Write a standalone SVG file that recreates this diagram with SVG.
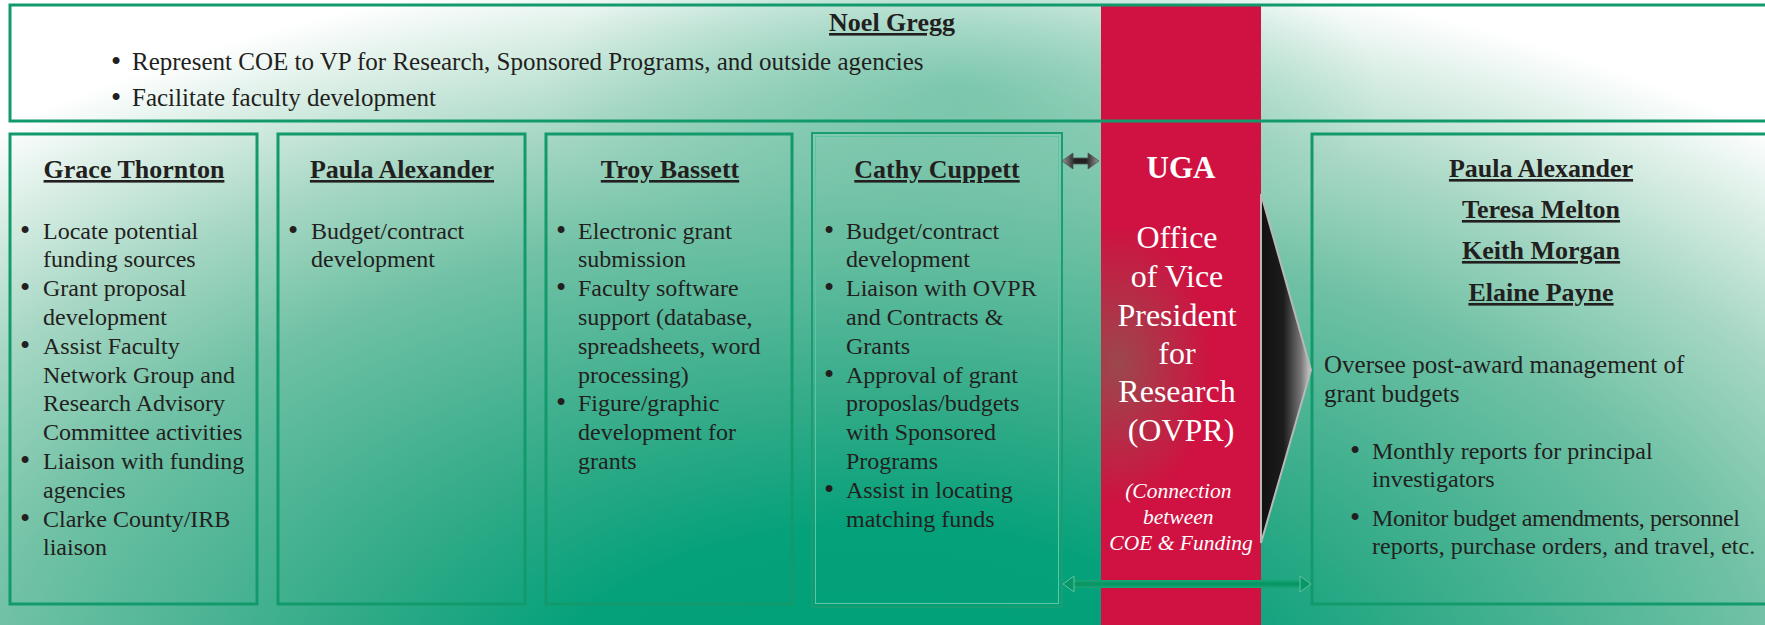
<svg xmlns="http://www.w3.org/2000/svg" width="1765" height="625" viewBox="0 0 1765 625">
<defs>
<radialGradient id="bg" gradientUnits="userSpaceOnUse" cx="880" cy="720" r="1375" gradientTransform="translate(880 720) scale(1 0.56) translate(-880 -720)">
<stop offset="0" stop-color="#00a079"/>
<stop offset="0.25" stop-color="#04a17a"/>
<stop offset="0.4" stop-color="#30aa87"/>
<stop offset="0.65" stop-color="#70c1a5"/>
<stop offset="0.8" stop-color="#a8d8c5"/>
<stop offset="0.92" stop-color="#dcefe7"/>
<stop offset="1" stop-color="#ffffff"/>
</radialGradient>
<radialGradient id="topTeal" cx="0.5" cy="0.5" r="0.5">
<stop offset="0" stop-color="#4fb594" stop-opacity="0.55"/>
<stop offset="1" stop-color="#4fb594" stop-opacity="0"/>
</radialGradient>
<radialGradient id="redShade" cx="0.5" cy="0.5" r="0.5">
<stop offset="0" stop-color="#8a5a50" stop-opacity="0.75"/>
<stop offset="1" stop-color="#8a5a50" stop-opacity="0"/>
</radialGradient>
<linearGradient id="chev" x1="0" y1="0" x2="1" y2="0">
<stop offset="0" stop-color="#111"/>
<stop offset="0.45" stop-color="#1c1c1c"/>
<stop offset="0.8" stop-color="#777"/>
<stop offset="1" stop-color="#cfcfcf"/>
</linearGradient>
<linearGradient id="dbl" x1="0" y1="0" x2="1" y2="0">
<stop offset="0" stop-color="#9a9a9a"/>
<stop offset="0.35" stop-color="#222"/>
<stop offset="0.65" stop-color="#222"/>
<stop offset="1" stop-color="#9a9a9a"/>
</linearGradient>
<linearGradient id="grn" x1="0" y1="0" x2="0" y2="1">
<stop offset="0" stop-color="#1aa67a"/>
<stop offset="0.5" stop-color="#05935f"/>
<stop offset="1" stop-color="#1aa67a"/>
</linearGradient>
<clipPath id="redClip"><rect x="1101" y="5" width="160" height="620"/></clipPath>
<style>
.box{fill:none;stroke:#129a6d;stroke-width:3}
.t{font-family:"Liberation Serif","Times New Roman",serif;fill:#231f20}
.b24{font-size:24px}
.b25{font-size:25px}
.bu{font-size:29px}
.h{font-family:"Liberation Serif","Times New Roman",serif;font-weight:bold;font-size:26px;fill:#231f20;text-anchor:middle;text-decoration:underline}
.w{font-family:"Liberation Serif","Times New Roman",serif;fill:#ffffff;text-anchor:middle}
</style>
</defs>
<rect x="0" y="0" width="1765" height="625" fill="url(#bg)"/>
<ellipse cx="960" cy="90" rx="420" ry="170" fill="url(#topTeal)"/>

<g id="node-ovpr">
<rect x="1101" y="5" width="160" height="620" fill="#cf1241"/>
<g clip-path="url(#redClip)">
<ellipse cx="1118" cy="365" rx="95" ry="140" fill="url(#redShade)"/>
</g>
<text class="w" x="1181" y="178" font-size="31" font-weight="bold">UGA</text>
<text class="w" font-size="32">
<tspan x="1181" y="248">Office</tspan>
<tspan x="1181" y="287">of Vice</tspan>
<tspan x="1181" y="326">President</tspan>
<tspan x="1181" y="364">for</tspan>
<tspan x="1181" y="402">Research</tspan>
<tspan x="1181" y="441">(OVPR)</tspan>
</text>
<text class="w" font-size="21.5" font-style="italic">
<tspan x="1181" y="498">(Connection</tspan>
<tspan x="1181" y="524">between</tspan>
<tspan x="1181" y="550">COE &amp; Funding</tspan>
</text>
</g>

<g id="node-noel">
<rect class="box" x="10" y="5" width="1770" height="116"/>
<text class="h" x="892" y="31">Noel Gregg</text>
<text class="t bu" x="111" y="71">•</text>
<text class="t b25" x="132" y="70">Represent COE to VP for Research, Sponsored Programs, and outside agencies</text>
<text class="t bu" x="111" y="107">•</text>
<text class="t b25" x="132" y="106">Facilitate faculty development</text>
</g>

<g id="node-grace">
<rect class="box" x="10" y="134" width="247" height="470"/>
<text class="h" x="134" y="178">Grace Thornton</text>
<text class="t bu">
<tspan x="20" y="239.6">•</tspan>
<tspan x="20" y="297.2">•</tspan>
<tspan x="20" y="354.8">•</tspan>
<tspan x="20" y="470">•</tspan>
<tspan x="20" y="527.6">•</tspan>
</text>
<text class="t b24">
<tspan x="43" y="238.6">Locate potential</tspan>
<tspan x="43" y="267.4">funding sources</tspan>
<tspan x="43" y="296.2">Grant proposal</tspan>
<tspan x="43" y="325">development</tspan>
<tspan x="43" y="353.8">Assist Faculty</tspan>
<tspan x="43" y="382.6">Network Group and</tspan>
<tspan x="43" y="411.4">Research Advisory</tspan>
<tspan x="43" y="440.2">Committee activities</tspan>
<tspan x="43" y="469">Liaison with funding</tspan>
<tspan x="43" y="497.8">agencies</tspan>
<tspan x="43" y="526.6">Clarke County/IRB</tspan>
<tspan x="43" y="555.4">liaison</tspan>
</text>
</g>

<g id="node-paula">
<rect class="box" x="278" y="134" width="247" height="470"/>
<text class="h" x="402" y="178">Paula Alexander</text>
<text class="t bu" x="288" y="239.6">•</text>
<text class="t b24">
<tspan x="311" y="238.6">Budget/contract</tspan>
<tspan x="311" y="267.4">development</tspan>
</text>
</g>

<g id="node-troy">
<rect class="box" x="546" y="134" width="246" height="470"/>
<text class="h" x="670" y="178">Troy Bassett</text>
<text class="t bu">
<tspan x="556" y="239.6">•</tspan>
<tspan x="556" y="297.2">•</tspan>
<tspan x="556" y="412.4">•</tspan>
</text>
<text class="t b24">
<tspan x="578" y="238.6">Electronic grant</tspan>
<tspan x="578" y="267.4">submission</tspan>
<tspan x="578" y="296.2">Faculty software</tspan>
<tspan x="578" y="325">support (database,</tspan>
<tspan x="578" y="353.8">spreadsheets, word</tspan>
<tspan x="578" y="382.6">processing)</tspan>
<tspan x="578" y="411.4">Figure/graphic</tspan>
<tspan x="578" y="440.2">development for</tspan>
<tspan x="578" y="469">grants</tspan>
</text>
</g>

<g id="node-cathy">
<rect x="812" y="133" width="250" height="474" fill="none" stroke="#1a9d72" stroke-width="2"/>
<rect x="815.5" y="136.5" width="243" height="467" fill="none" stroke="#5fc4a2" stroke-width="1"/>
<text class="h" x="937" y="178">Cathy Cuppett</text>
<text class="t bu">
<tspan x="824" y="239.6">•</tspan>
<tspan x="824" y="297.2">•</tspan>
<tspan x="824" y="383.6">•</tspan>
<tspan x="824" y="498.8">•</tspan>
</text>
<text class="t b24">
<tspan x="846" y="238.6">Budget/contract</tspan>
<tspan x="846" y="267.4">development</tspan>
<tspan x="846" y="296.2">Liaison with OVPR</tspan>
<tspan x="846" y="325">and Contracts &amp;</tspan>
<tspan x="846" y="353.8">Grants</tspan>
<tspan x="846" y="382.6">Approval of grant</tspan>
<tspan x="846" y="411.4">proposlas/budgets</tspan>
<tspan x="846" y="440.2">with Sponsored</tspan>
<tspan x="846" y="469">Programs</tspan>
<tspan x="846" y="497.8">Assist in locating</tspan>
<tspan x="846" y="526.6">matching funds</tspan>
</text>
</g>

<g id="node-postaward">
<rect class="box" x="1312" y="134" width="470" height="470"/>
<text class="h" x="1541" y="177">Paula Alexander</text>
<text class="h" x="1541" y="218">Teresa Melton</text>
<text class="h" x="1541" y="259">Keith Morgan</text>
<text class="h" x="1541" y="301">Elaine Payne</text>
<text class="t b25">
<tspan x="1324" y="373">Oversee post-award management of</tspan>
<tspan x="1324" y="402">grant budgets</tspan>
</text>
<text class="t bu">
<tspan x="1350" y="460">•</tspan>
<tspan x="1350" y="527">•</tspan>
</text>
<text class="t b24">
<tspan x="1372" y="459">Monthly reports for principal</tspan>
<tspan x="1372" y="487">investigators</tspan>
</text>
<text class="t b24" x="1372" y="526" textLength="368" lengthAdjust="spacing">Monitor budget amendments, personnel</text>
<text class="t b24" x="1372" y="554">reports, purchase orders, and travel, etc.</text>
</g>

<g id="connectors">
<polygon points="1261,194 1311,370 1261,543" fill="url(#chev)" stroke="#b8b8b8" stroke-width="2"/>
<polygon points="1062,161 1073,153 1073,158 1088,158 1088,153 1099,161 1088,169 1088,164 1073,164 1073,169" fill="url(#dbl)" stroke="#555" stroke-width="0.8"/>
<rect x="1072" y="580" width="230" height="8" fill="url(#grn)"/>
<polygon points="1063,584 1074,576 1074,592" fill="#0b9668" stroke="#5ec4a0" stroke-width="1"/>
<polygon points="1311,584 1300,576 1300,592" fill="#0b9668" stroke="#5ec4a0" stroke-width="1"/>
</g>
</svg>
